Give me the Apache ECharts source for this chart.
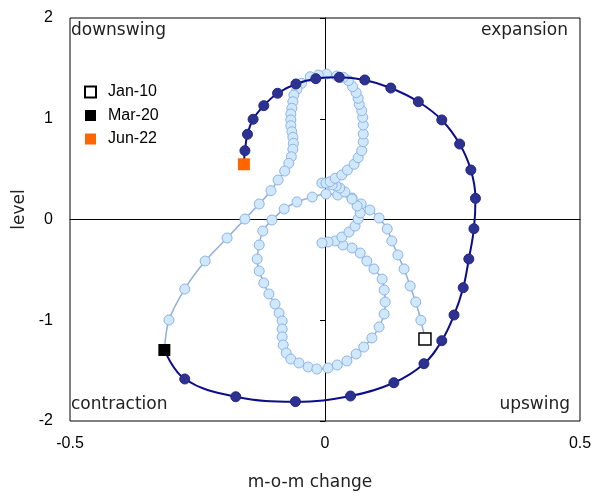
<!DOCTYPE html>
<html><head><meta charset="utf-8">
<script src="https://cdn.jsdelivr.net/npm/echarts@6/dist/echarts.min.js"></script>
<style>html,body{margin:0;padding:0;background:#fff}#c{width:602px;height:493px}</style>
</head><body><div id="c"></div>
<script>
// Jan-10 .. Feb-20 (m-o-m change, level)
const lightX = [0.196,0.188,0.178,0.167,0.155,0.143,0.131,0.122,0.106,0.088,0.071,0.053,0.025,0.002,-0.025,-0.055,-0.080,-0.104,-0.122,-0.129,-0.133,-0.129,-0.120,-0.110,-0.098,-0.090,-0.084,-0.084,-0.084,-0.082,-0.076,-0.067,-0.051,-0.033,-0.016,0.006,0.024,0.043,0.061,0.076,0.092,0.106,0.116,0.118,0.116,0.112,0.096,0.082,0.069,0.053,0.035,0.020,0.006,-0.006,0.033,0.047,0.059,0.065,0.069,0.063,0.053,0.039,0.029,0.022,0.014,-0.006,0.002,0.010,0.020,0.033,0.044,0.057,0.065,0.072,0.075,0.075,0.075,0.074,0.072,0.067,0.065,0.061,0.054,0.046,0.036,0.023,0.003,-0.013,-0.029,-0.046,-0.055,-0.061,-0.063,-0.065,-0.067,-0.067,-0.067,-0.065,-0.063,-0.062,-0.063,-0.066,-0.071,-0.079,-0.092,-0.106,-0.129,-0.157,-0.192,-0.235,-0.275,-0.306];
const lightY = [-1.186,-1.000,-0.819,-0.660,-0.491,-0.352,-0.213,-0.094,0.015,0.094,0.154,0.213,0.243,0.253,0.223,0.174,0.104,-0.005,-0.114,-0.253,-0.392,-0.511,-0.630,-0.739,-0.839,-0.928,-1.007,-1.087,-1.166,-1.246,-1.325,-1.385,-1.424,-1.464,-1.484,-1.474,-1.444,-1.404,-1.335,-1.266,-1.176,-1.067,-0.938,-0.819,-0.700,-0.591,-0.491,-0.412,-0.333,-0.283,-0.253,-0.213,-0.223,-0.233,-0.174,-0.124,-0.065,0.005,0.065,0.134,0.203,0.273,0.313,0.333,0.343,0.362,0.362,0.375,0.409,0.442,0.491,0.548,0.613,0.683,0.772,0.849,0.938,1.014,1.080,1.143,1.203,1.259,1.318,1.378,1.411,1.424,1.444,1.434,1.417,1.352,1.292,1.236,1.169,1.104,1.047,0.988,0.931,0.871,0.816,0.756,0.697,0.623,0.558,0.481,0.392,0.286,0.154,0.005,-0.184,-0.412,-0.690,-0.998];
// Mar-20 .. Jun-22
const darkX = [-0.315,-0.275,-0.175,-0.058,0.050,0.135,0.194,0.229,0.253,0.271,0.282,0.292,0.295,0.286,0.264,0.229,0.183,0.129,0.078,0.028,-0.018,-0.057,-0.093,-0.120,-0.141,-0.152,-0.157,-0.159];
const darkY = [-1.295,-1.583,-1.759,-1.808,-1.752,-1.620,-1.431,-1.203,-0.948,-0.677,-0.392,-0.091,0.210,0.491,0.749,0.988,1.169,1.305,1.385,1.411,1.398,1.345,1.253,1.130,0.995,0.846,0.683,0.548];
const legendNames = ['Jan-10','Mar-20','Jun-22'];
const quadrantLabels = ['downswing','expansion','contraction','upswing'];
const xTickInterval = 0.5, xMin = -0.5, xMax = 0.5;
const yTickInterval = 1, yMin = -2, yMax = 2;

const lightData = lightX.map((x,i)=>[x, lightY[i]]);
const darkData = darkX.map((x,i)=>[x, darkY[i]]);
const lightLine = lightData.concat([{value: darkData[0], symbol:'none'}]);

const qFont = '17px "DejaVu Sans"';
const chart = echarts.init(document.getElementById('c'), null, {renderer:'canvas'});
chart.setOption({
  animation:false,
  backgroundColor:'#fff',
  grid:{left:70,right:22,top:18,bottom:72,show:true,borderColor:'#000',borderWidth:1,backgroundColor:'transparent',
        containLabel:false,outerBoundsMode:'none'},
  xAxis:[
    {type:'value',min:xMin,max:xMax,interval:xTickInterval,position:'bottom',
     axisLine:{show:false,onZero:false},axisTick:{show:false},splitLine:{show:false},
     axisLabel:{fontFamily:'Liberation Sans',fontSize:16,color:'#000',margin:15},
     name:'m-o-m change',nameLocation:'middle',nameGap:53,
     nameTextStyle:{fontFamily:'DejaVu Sans',fontSize:17,color:'#222',padding:[0,30,0,0]}},
    {type:'value',min:xMin,max:xMax,interval:xTickInterval,position:'bottom',
     axisLine:{show:true,onZero:true,lineStyle:{color:'#000',width:1}},axisTick:{show:false},
     axisLabel:{show:false},splitLine:{show:false}}
  ],
  yAxis:[
    {type:'value',min:yMin,max:yMax,interval:yTickInterval,position:'left',
     axisLine:{show:false,onZero:false},axisTick:{show:false},splitLine:{show:false},
     axisLabel:{fontFamily:'Liberation Sans',fontSize:16,color:'#000',margin:17},
     name:'level',nameLocation:'middle',nameGap:38,
     nameTextStyle:{fontFamily:'DejaVu Sans',fontSize:17,color:'#222',padding:[0,0,0,20]}},
    {type:'value',min:yMin,max:yMax,interval:yTickInterval,position:'left',
     axisLine:{show:true,onZero:true,lineStyle:{color:'#000',width:1}},
     axisTick:{show:true,inside:false,length:5,lineStyle:{color:'#000'}},
     axisLabel:{show:false},splitLine:{show:false}}
  ],
  legend:{data:legendNames,orient:'vertical',left:79,top:79,itemWidth:11,itemHeight:11,itemGap:7.5,icon:'rect',
    textStyle:{fontFamily:'Liberation Sans',fontSize:16,color:'#000',padding:[0,0,0,7]}},
  graphic:[
    {type:'text',left:71,top:22,style:{text:quadrantLabels[0],font:qFont,fill:'#222'}},
    {type:'text',right:34,top:22,style:{text:quadrantLabels[1],font:qFont,fill:'#222'}},
    {type:'text',left:71,top:396,style:{text:quadrantLabels[2],font:qFont,fill:'#222'}},
    {type:'text',right:32,top:396,style:{text:quadrantLabels[3],font:qFont,fill:'#222'}}
  ],
  series:[
    {type:'line',name:'light',xAxisIndex:0,yAxisIndex:0,data:lightLine,smooth:0.3,z:2,
     symbol:'circle',symbolSize:10,showSymbol:true,
     lineStyle:{color:'#8eaee0',width:1.5},
     itemStyle:{color:'#cfe8fc',borderColor:'#8fb3e6',borderWidth:1}},
    {type:'line',name:'dark',xAxisIndex:0,yAxisIndex:0,data:darkData,smooth:0.4,z:3,
     symbol:'circle',symbolSize:10,
     lineStyle:{color:'#0d0d8a',width:2},
     itemStyle:{color:'#2d3192',borderColor:'#24267e',borderWidth:1}},
    {type:'scatter',name:legendNames[0],data:[lightData[0]],symbol:'rect',symbolSize:12,z:5,
     itemStyle:{color:'#fff',borderColor:'#000',borderWidth:1.5,opacity:1}},
    {type:'scatter',name:legendNames[1],data:[darkData[0]],symbol:'rect',symbolSize:12,z:5,
     itemStyle:{color:'#000',opacity:1}},
    {type:'scatter',name:legendNames[2],data:[darkData[darkData.length-1]],symbol:'rect',symbolSize:12,z:5,
     itemStyle:{color:'#ff6600',opacity:1}}
  ]
});
</script></body></html>
